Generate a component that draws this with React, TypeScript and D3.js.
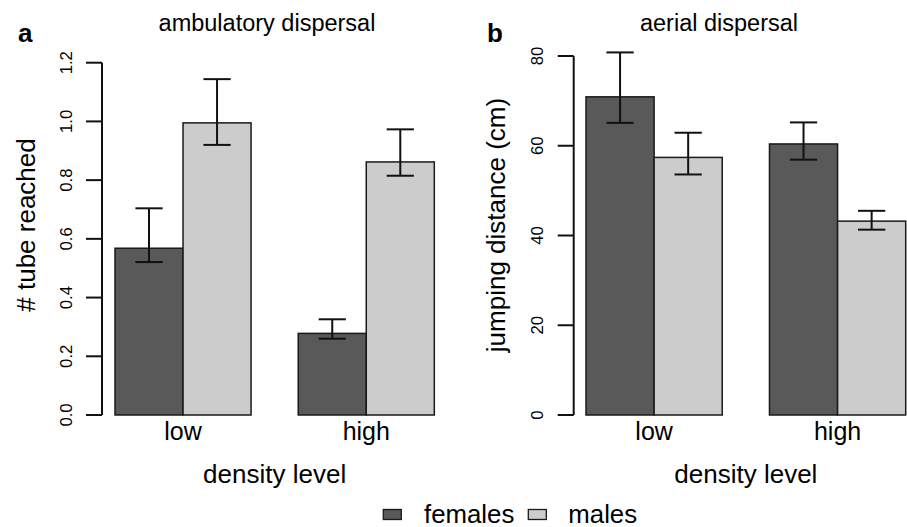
import React from 'react';
import { scaleLinear, scaleBand } from 'd3';

const width = 907;
const height = 527;
const font = 'Liberation Sans, Arial, Helvetica, sans-serif';

const densityLevels = ['low', 'high'];
const sexes = ['females', 'males'];
const sexColors = ['#595959', '#cccccc'];

// panel a: number of tubes reached
const tubeMean = [[0.568, 0.995], [0.278, 0.862]];
const tubeLower = [[0.521, 0.920], [0.260, 0.815]];
const tubeUpper = [[0.704, 1.144], [0.326, 0.973]];
const tubeTicks = ['0.0', '0.2', '0.4', '0.6', '0.8', '1.0', '1.2'];

// panel b: jumping distance
const jumpMean = [[70.9, 57.4], [60.4, 43.2]];
const jumpLower = [[65.1, 53.6], [56.9, 41.3]];
const jumpUpper = [[80.8, 62.9], [65.2, 45.5]];
const jumpTicks = ['0', '20', '40', '60', '80'];

type PanelProps = {
  letter: string;
  title: string;
  titleX: number;
  yLabel: string;
  yLabelX: number;
  axisX: number;
  barsLeft: number;
  barsRight: number;
  yMax: number;
  yTop: number;
  ticks: string[];
  tickLabelX: number;
  mean: number[][];
  lower: number[][];
  upper: number[][];
};

const Panel = (p: PanelProps) => {
  const y = scaleLinear().domain([0, p.yMax]).range([415, p.yTop]);
  const x = scaleBand().domain(densityLevels).range([p.barsLeft, p.barsRight]).paddingInner(0.2575).paddingOuter(0);
  const xs = scaleBand().domain(sexes).range([0, x.bandwidth()]).padding(0);
  const bw = xs.bandwidth();
  const center = (p.barsLeft + p.barsRight) / 2;

  return (
    <g>
      <text x={p.letter === 'a' ? 18 : 487} y={41.7} fontSize={26} fontWeight="bold" fontFamily={font}>{p.letter}</text>
      <text x={p.titleX} y={30.5} fontSize={23.5} textAnchor="middle" fontFamily={font}>{p.title}</text>

      {densityLevels.map((lvl, i) =>
        sexes.map((s, j) => {
          const bx = (x(lvl) as number) + (xs(s) as number);
          const cx = bx + bw / 2;
          const cap = bw * 0.2;
          return (
            <g key={lvl + s}>
              <rect x={bx} y={y(p.mean[i][j])} width={bw} height={415 - y(p.mean[i][j])}
                fill={sexColors[j]} stroke="#1a1a1a" strokeWidth={1.5} />
              <line x1={cx} x2={cx} y1={y(p.upper[i][j])} y2={y(p.lower[i][j])} stroke="#111" strokeWidth={2} />
              <line x1={cx - cap} x2={cx + cap} y1={y(p.upper[i][j])} y2={y(p.upper[i][j])} stroke="#111" strokeWidth={2} />
              <line x1={cx - cap} x2={cx + cap} y1={y(p.lower[i][j])} y2={y(p.lower[i][j])} stroke="#111" strokeWidth={2} />
            </g>
          );
        })
      )}

      {/* y axis */}
      <line x1={p.axisX} x2={p.axisX} y1={y(0)} y2={y(p.yMax)} stroke="#111" strokeWidth={2} />
      {p.ticks.map(t => (
        <g key={t}>
          <line x1={p.axisX - 16} x2={p.axisX} y1={y(+t)} y2={y(+t)} stroke="#111" strokeWidth={2} />
          <text transform={`translate(${p.tickLabelX},${y(+t)}) rotate(-90)`} textAnchor="middle"
            fontSize={16.7} fontFamily={font}>{t}</text>
        </g>
      ))}
      <text transform={`translate(${p.yLabelX},225) rotate(-90)`} textAnchor="middle" fontSize={26} fontFamily={font}>{p.yLabel}</text>

      {/* x labels */}
      {densityLevels.map(lvl => (
        <text key={lvl} x={(x(lvl) as number) + x.bandwidth() / 2} y={439.5} textAnchor="middle" fontSize={25} fontFamily={font}>{lvl}</text>
      ))}
      <text x={center} y={482.7} textAnchor="middle" fontSize={26} fontFamily={font}>density level</text>
    </g>
  );
};

const App = () => {
  const legendX = [383.3, 528.3];
  const legendTextX = [424, 568.3];
  return (
    <svg width={width} height={height} style={{ position: 'absolute', left: 0, top: 0, background: '#fff' }}>
      <rect width={width} height={height} fill="#fff" />
      <Panel letter="a" title="ambulatory dispersal" titleX={267} yLabel="# tube reached" yLabelX={35.3}
        axisX={102} barsLeft={115} barsRight={434.3} yMax={1.2} yTop={62.7} ticks={tubeTicks} tickLabelX={71.7}
        mean={tubeMean} lower={tubeLower} upper={tubeUpper} />
      <Panel letter="b" title="aerial dispersal" titleX={719} yLabel="jumping distance (cm)" yLabelX={505.3}
        axisX={573.7} barsLeft={586} barsRight={905.7} yMax={80} yTop={56} ticks={jumpTicks} tickLabelX={543.3}
        mean={jumpMean} lower={jumpLower} upper={jumpUpper} />
      {sexes.map((s, j) => (
        <g key={s}>
          <rect x={legendX[j]} y={509.5} width={18} height={10} fill={sexColors[j]} stroke="#1a1a1a" strokeWidth={1.3} />
          <text x={legendTextX[j]} y={523.3} fontSize={25.8} fontFamily={font}>{s}</text>
        </g>
      ))}
    </svg>
  );
};

export default App;
